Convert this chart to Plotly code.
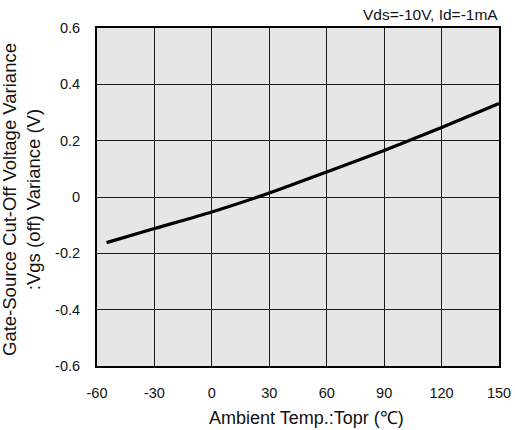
import plotly.graph_objects as go

temp_c = [-55, -30, 0, 30, 60, 90, 120, 150]
vgs_var = [-0.162, -0.112, -0.053, 0.014, 0.089, 0.165, 0.247, 0.332]

x_ticks = [-60, -30, 0, 30, 60, 90, 120, 150]
y_ticks = [-0.6, -0.4, -0.2, 0, 0.2, 0.4, 0.6]
y_tick_labels = ["-0.6", "-0.4", "-0.2", "0", "0.2", "0.4", "0.6"]

W, H = 515, 430
L, R, T, B = 97, 16, 28, 64
pw = W - L - R
ph = H - T - B

font = "Liberation Sans, Arial, Helvetica, sans-serif"

def px(xp):
    return (xp - L) / pw

def py(yp):
    return (H - B - yp) / ph

fig = go.Figure()
fig.add_trace(go.Scatter(x=temp_c, y=vgs_var, mode="lines",
                         line=dict(color="black", width=3.2, shape="spline", smoothing=0.6),
                         showlegend=False, hoverinfo="skip"))

fig.update_layout(
    width=W, height=H,
    margin=dict(l=L, r=R, t=T, b=B, autoexpand=False),
    paper_bgcolor="white",
    plot_bgcolor="#e6e6e6",
    font=dict(family=font, size=14.5, color="#111"),
    xaxis=dict(range=[-60, 150], tickvals=x_ticks, ticktext=[str(v) for v in x_ticks],
               showgrid=True, gridcolor="#1a1a1a", gridwidth=1, zeroline=False,
               showline=True, linecolor="black", linewidth=2, mirror=True,
               ticks="", ticklabelstandoff=13, automargin=False),
    yaxis=dict(range=[-0.6, 0.6], tickvals=y_ticks, ticktext=y_tick_labels,
               showgrid=True, gridcolor="#1a1a1a", gridwidth=1, zeroline=False,
               showline=True, linecolor="black", linewidth=2, mirror=True,
               ticks="", ticklabelstandoff=12, automargin=False),
    annotations=[
        dict(text="Vds=-10V, Id=-1mA", xref="paper", yref="paper",
             x=px(500), y=py(15), xanchor="right", yanchor="middle",
             showarrow=False, font=dict(size=15.5)),
        dict(text="Ambient Temp.:Topr (℃)", xref="paper", yref="paper",
             x=px(306), y=py(418), xanchor="center", yanchor="middle",
             showarrow=False, font=dict(size=18)),
        dict(text="Gate-Source Cut-Off Voltage Variance<br>:Vgs (off) Variance (V)",
             xref="paper", yref="paper", x=px(22), y=py(200),
             xanchor="center", yanchor="middle", textangle=-90, showarrow=False,
             font=dict(size=18.5)),
    ],
)

fig.write_html("out.html", config={"displayModeBar": False},
               post_script="document.body.style.margin='0';document.body.style.overflow='hidden';")
